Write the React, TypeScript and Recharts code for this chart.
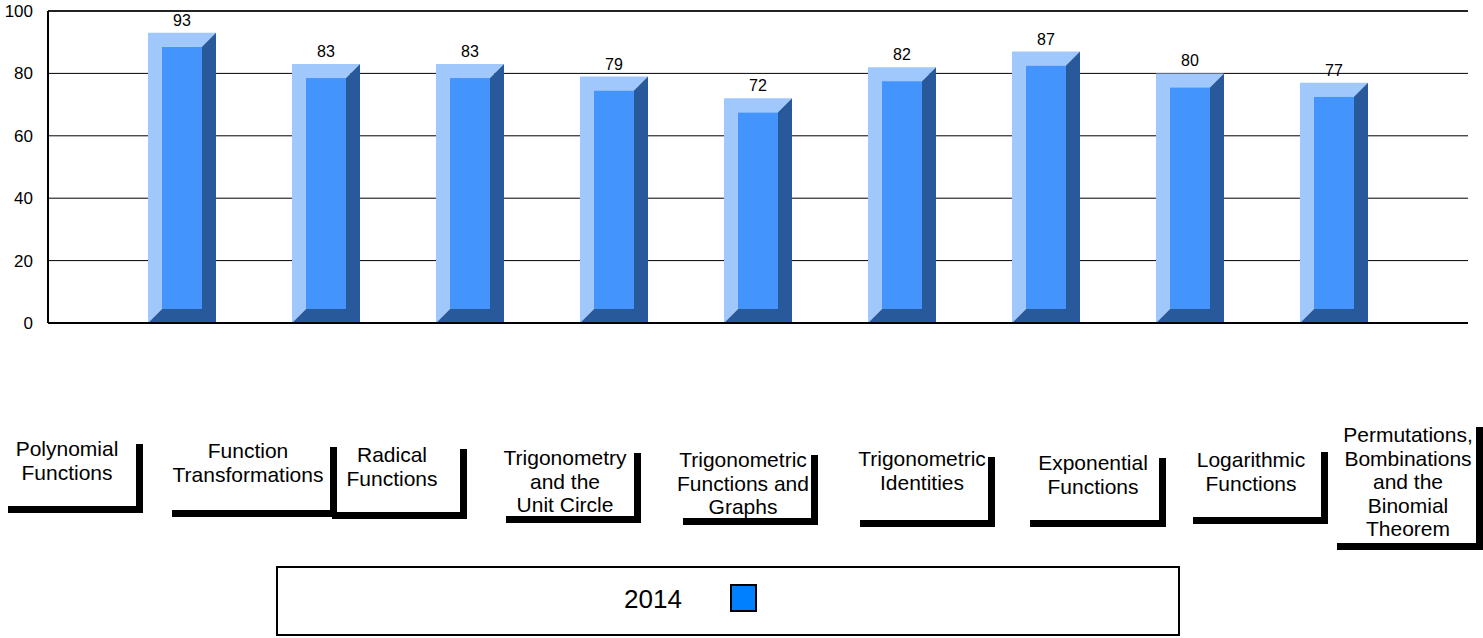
import React from 'react';
import {
    BarChart,
    Bar,
    XAxis,
    YAxis,
    CartesianGrid,
    ReferenceLine,
    LabelList,
    Legend,
} from 'recharts';

// Categories (line breaks as in the original labels)
const categories = [
    'Polynomial\nFunctions',
    'Function\nTransformations',
    'Radical\nFunctions',
    'Trigonometry\nand the\nUnit Circle',
    'Trigonometric\nFunctions and\nGraphs',
    'Trigonometric\nIdentities',
    'Exponential\nFunctions',
    'Logarithmic\nFunctions',
    'Permutations,\nBombinations\nand the\nBinomial\nTheorem',
];
const scores2014 = [93, 83, 83, 79, 72, 82, 87, 80, 77];
const yTicks = [0, 20, 40, 60, 80, 100];
const seriesName = '2014';

const data = categories.map((name, i) => ({ name, score: scores2014[i] }));

const FONT = '"Liberation Sans", Arial, sans-serif';

// Label boxes: x offsets relative to tick centre, y absolute
const labelLayout = [
    { textDx: -115, baseline: 456, left: -174, right: -39, top: 444, bottom: 513 },
    { textDx: -78, baseline: 458, left: -154, right: 11, top: 447, bottom: 517 },
    { textDx: -78, baseline: 462, left: -138, right: -3, top: 449, bottom: 519 },
    { textDx: -49, baseline: 465, left: -108, right: 27, top: 453, bottom: 523 },
    { textDx: -15, baseline: 467, left: -75, right: 60, top: 455, bottom: 525 },
    { textDx: 20, baseline: 466, left: -42, right: 93, top: 457, bottom: 527 },
    { textDx: 47, baseline: 470, left: -16, right: 120, top: 458, bottom: 527 },
    { textDx: 61, baseline: 467, left: 3, right: 138, top: 452, bottom: 524 },
    { textDx: 74, baseline: 442, left: 3, right: 149, top: 427, bottom: 550 },
];

const CategoryTick = (props: any) => {
    const { x, payload, index } = props;
    const i = payload?.index ?? index ?? 0;
    const box = labelLayout[i];
    if (!box) return null;
    const lines = String(payload.value).split('\n');
    const t = 7;
    return (
        <g>
            {lines.map((line, k) => (
                <text
                    key={k}
                    x={x + box.textDx}
                    y={box.baseline + k * 23.5}
                    textAnchor="middle"
                    fontSize={21}
                    fontFamily={FONT}
                    fill="#000"
                >
                    {line}
                </text>
            ))}
            <rect x={x + box.right - t} y={box.top} width={t} height={box.bottom - box.top} fill="#000" />
            <rect x={x + box.left} y={box.bottom - t} width={box.right - box.left} height={t} fill="#000" />
        </g>
    );
};

// Bevelled "3D" bar
const BevelBar = (props: any) => {
    const { x, y, width, height } = props;
    if (!height || height <= 0) return null;
    const d = 14;
    const r = x + width;
    const b = y + height;
    const light = `${x},${b} ${x},${y} ${r},${y} ${r - d},${y + d} ${x + d},${y + d} ${x + d},${b - d}`;
    const dark = `${r},${y} ${r},${b} ${x},${b} ${x + d},${b - d} ${r - d},${b - d} ${r - d},${y + d}`;
    return (
        <g>
            <polygon points={light} fill="#a1c8fc" />
            <polygon points={dark} fill="#28599b" />
            <rect x={x + d} y={y + d} width={width - 2 * d} height={height - 2 * d} fill="#4494fd" />
        </g>
    );
};

const LegendBox = () => (
    <div
        style={{
            width: 904,
            height: 70,
            boxSizing: 'border-box',
            border: '2px solid #000',
            position: 'relative',
            fontFamily: FONT,
        }}
    >
        <span
            style={{
                position: 'absolute',
                left: 346,
                top: 16,
                fontSize: 26,
                lineHeight: '30px',
                color: '#000',
            }}
        >
            {seriesName}
        </span>
        <span
            style={{
                position: 'absolute',
                left: 452,
                top: 16,
                width: 27,
                height: 28,
                boxSizing: 'border-box',
                background: '#0080ff',
                border: '2px solid #000',
            }}
        />
    </div>
);

export default function App() {
    return (
        <div style={{ position: 'absolute', left: 0, top: 0, background: '#fff' }}>
            <BarChart
                width={1483}
                height={638}
                data={data}
                margin={{ top: 11, right: 15, bottom: 0, left: 0 }}
                barSize={68}
            >
                <CartesianGrid vertical={false} stroke="#000" strokeWidth={1} />
                <XAxis
                    dataKey="name"
                    interval={0}
                    height={315}
                    padding={{ left: 62, right: 62 }}
                    tickLine={false}
                    axisLine={{ stroke: '#000', strokeWidth: 2 }}
                    tick={<CategoryTick />}
                />
                <YAxis
                    domain={[0, 100]}
                    ticks={yTicks}
                    width={48}
                    tickLine={false}
                    tickMargin={9}
                    axisLine={{ stroke: '#000', strokeWidth: 2 }}
                    tick={{ fontSize: 17, fill: '#000', fontFamily: FONT }}
                />
                <YAxis
                    yAxisId="right"
                    orientation="right"
                    domain={[0, 100]}
                    width={0}
                    tick={false}
                    tickLine={false}
                    axisLine={{ stroke: '#808080', strokeWidth: 2 }}
                />
                <ReferenceLine y={100} stroke="#222" strokeWidth={2} />
                <Legend
                    layout="horizontal"
                    verticalAlign="middle"
                    align="center"
                    wrapperStyle={{ left: 276, top: 566, width: 904, height: 70 }}
                    content={<LegendBox />}
                />
                <Bar
                    dataKey="score"
                    name={seriesName}
                    fill="#0080ff"
                    shape={<BevelBar />}
                    isAnimationActive={false}
                >
                    <LabelList
                        dataKey="score"
                        position="top"
                        offset={7}
                        fontSize={16}
                        fill="#000"
                        fontFamily={FONT}
                    />
                </Bar>
            </BarChart>
        </div>
    );
}
